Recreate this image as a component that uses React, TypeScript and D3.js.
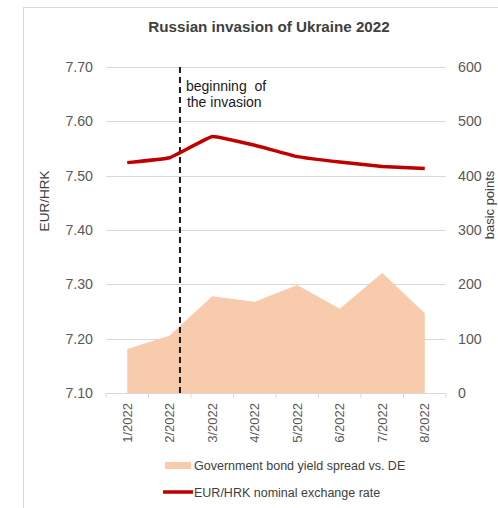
import React from "react";
import * as d3 from "d3";

const categories = ["1/2022", "2/2022", "3/2022", "4/2022", "5/2022", "6/2022", "7/2022", "8/2022"];
const spreadValues = [81, 106, 178, 168, 199, 155, 221, 147];
const rateValues = [7.524, 7.533, 7.572, 7.556, 7.535, 7.525, 7.517, 7.513];
const leftTicks = [7.1, 7.2, 7.3, 7.4, 7.5, 7.6, 7.7];
const rightTicks = [0, 100, 200, 300, 400, 500, 600];
const invasionCategory = "2/2022";
const invasionOffset = 0.24; // fraction of a band after the category centre

const W = 498, H = 508;
const plot = { left: 106, right: 446, top: 67, bottom: 393 };
const font = "'Liberation Sans', Arial, sans-serif";

export default function App() {
  const x = d3.scaleBand<string>().domain(categories).range([plot.left, plot.right]).padding(0);
  const cx = (c: string) => (x(c) as number) + x.bandwidth() / 2;
  const yL = d3.scaleLinear().domain([7.1, 7.7]).range([plot.bottom, plot.top]);
  const yR = d3.scaleLinear().domain([0, 600]).range([plot.bottom, plot.top]);

  const area = d3.area<number>()
    .x((_, i) => cx(categories[i]))
    .y0(yR(0))
    .y1((d) => yR(d))(spreadValues) as string;
  const line = d3.line<number>()
    .x((_, i) => cx(categories[i]))
    .y((d) => yL(d))
    .curve(d3.curveCardinal.tension(0.75))(rateValues) as string;

  const invX = cx(invasionCategory) + invasionOffset * x.bandwidth();
  const boundaries = categories.map((c) => x(c) as number).concat([plot.right]);

  return (
    <svg width={W} height={H} style={{ position: "absolute", left: 0, top: 0 }} fontFamily={font}>
      <rect x={0} y={0} width={W} height={H} fill="#fff" />
      <rect x={23.5} y={7.5} width={520} height={540} fill="none" stroke="#d9d9d9" strokeWidth={1} />
      <text x={269} y={32} textAnchor="middle" fontWeight="bold" fontSize={15.2} fill="#404040">
        Russian invasion of Ukraine 2022
      </text>
      {leftTicks.map((t) => (
        <g key={"l" + t}>
          {t > 7.1 && (
            <line x1={plot.left} x2={plot.right} y1={Math.round(yL(t)) + 0.5} y2={Math.round(yL(t)) + 0.5} stroke="#d9d9d9" strokeWidth={1} />
          )}
          <text x={93} y={yL(t) + 5} textAnchor="end" fontSize={14.2} fill="#595959">{t.toFixed(2)}</text>
        </g>
      ))}
      {rightTicks.map((t) => (
        <text key={"r" + t} x={458} y={yR(t) + 5} textAnchor="start" fontSize={14.2} fill="#595959">{t}</text>
      ))}
      <path d={area} fill="#f8cbad" />
      <line x1={plot.left} x2={plot.right} y1={plot.bottom + 0.5} y2={plot.bottom + 0.5} stroke="#d9d9d9" />
      {boundaries.map((b, i) => (
        <line key={"t" + i} x1={b} x2={b} y1={plot.bottom} y2={plot.bottom + 5} stroke="#d9d9d9" />
      ))}
      <line x1={invX} x2={invX} y1={plot.top} y2={plot.bottom} stroke="#1a1a1a" strokeWidth={2} strokeDasharray="6,4" />
      <path d={line} fill="none" stroke="#c00000" strokeWidth={3.5} strokeLinejoin="round" />
      <text x={invX + 6} y={91} fontSize={14} fill="#1a1a1a" style={{ whiteSpace: "pre" }}>{"beginning  of"}</text>
      <text x={invX + 7} y={107} fontSize={14} fill="#1a1a1a">the invasion</text>
      {categories.map((c) => (
        <text key={c} transform={`translate(${cx(c) + 4.5},403) rotate(-90)`} textAnchor="end" fontSize={13} fill="#595959">{c}</text>
      ))}
      <text transform="translate(49,201) rotate(-90)" textAnchor="middle" fontSize={13.5} fill="#404040">EUR/HRK</text>
      <text transform="translate(494,205) rotate(-90)" textAnchor="middle" fontSize={13} fill="#404040">basic points</text>
      <rect x={165} y={462} width={26} height={7} fill="#f8cbad" />
      <text x={194} y={470} fontSize={12.5} fill="#404040">Government bond yield spread vs. DE</text>
      <line x1={163} x2={193} y1={492} y2={492} stroke="#c00000" strokeWidth={3.5} />
      <text x={194} y={497} fontSize={12.5} fill="#404040">EUR/HRK nominal exchange rate</text>
    </svg>
  );
}
